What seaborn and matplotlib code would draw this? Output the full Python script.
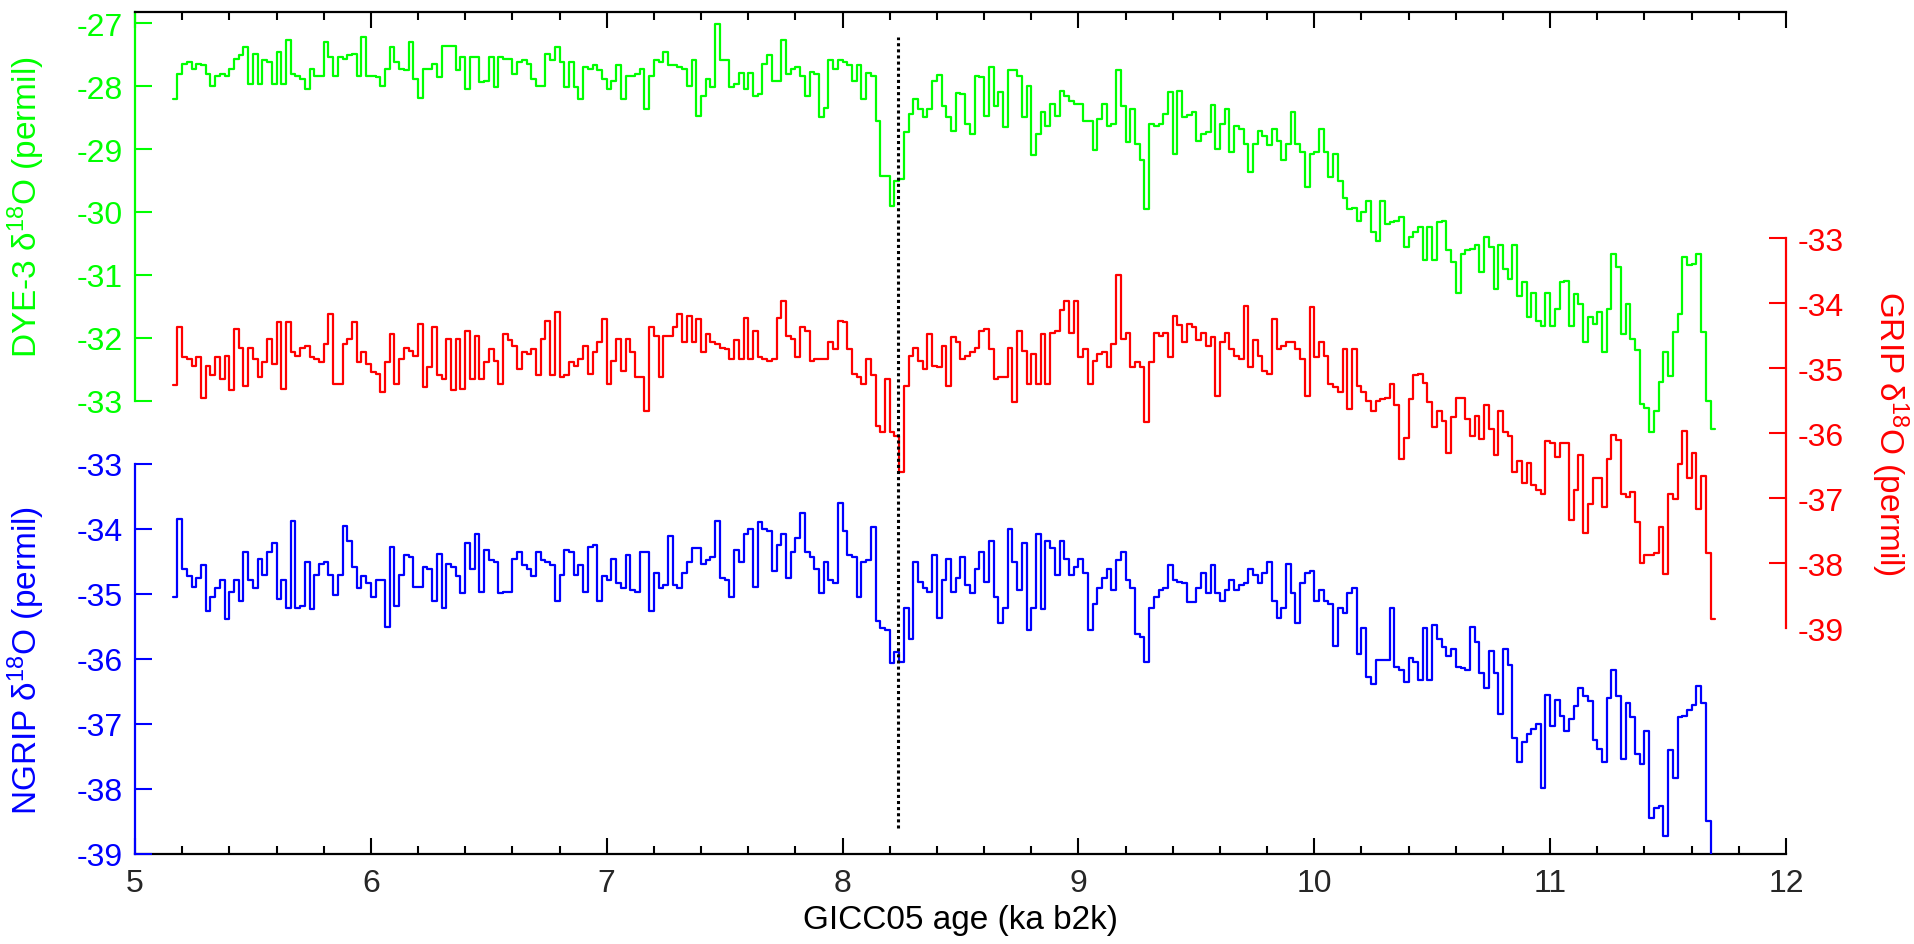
import numpy as np
import pandas as pd
import matplotlib.pyplot as plt
from matplotlib.ticker import MultipleLocator
import seaborn as sns

# 20-year mean d18O (permil) on the GICC05 time scale, first bin starts at 5.16 ka b2k
AGE_START = 5.16
AGE_STEP = 0.02
EVENT_AGE = 8.235   # 8.2 ka event marker

dye3_d18o = [
    -28.20, -27.81, -27.65, -27.62, -27.73, -27.65, -27.67, -27.81, -28.00, -27.84,
    -27.81, -27.84, -27.73, -27.57, -27.51, -27.37, -27.96, -27.49, -27.96, -27.59,
    -27.62, -27.96, -27.45, -27.96, -27.26, -27.81, -27.83, -27.89, -28.04, -27.73,
    -27.83, -27.83, -27.30, -27.54, -27.83, -27.54, -27.57, -27.50, -27.49, -27.83,
    -27.21, -27.83, -27.84, -27.86, -27.99, -27.73, -27.38, -27.62, -27.73, -27.75,
    -27.29, -27.89, -28.18, -27.73, -27.73, -27.65, -27.86, -27.36, -27.36, -27.36,
    -27.75, -27.54, -28.04, -27.54, -27.54, -27.94, -27.91, -27.54, -28.02, -27.54,
    -27.57, -27.57, -27.81, -27.62, -27.59, -27.65, -27.89, -27.99, -27.99, -27.49,
    -27.59, -27.38, -27.62, -28.02, -27.62, -28.02, -28.20, -27.70, -27.73, -27.67,
    -27.75, -27.89, -28.04, -27.91, -27.67, -28.20, -27.83, -27.83, -27.81, -27.73,
    -28.36, -27.83, -27.59, -27.62, -27.46, -27.67, -27.67, -27.70, -27.73, -27.99,
    -27.59, -28.47,
    -28.15, -27.89, -28.02, -27.01, -27.59, -27.59, -28.02, -27.96, -27.79, -28.04,
    -27.79, -28.15, -28.12, -27.65, -27.51, -27.91, -27.91, -27.26, -27.81, -27.73,
    -27.70, -27.83, -28.15, -27.77, -27.81, -28.49, -28.34, -27.58, -27.73, -27.59,
    -27.62, -27.67, -27.91, -27.67, -28.20, -27.79, -27.84, -28.55, -29.42, -29.42,
    -29.91, -29.50, -29.47, -28.73, -28.44, -28.20, -28.36, -28.49, -28.36, -27.91,
    -27.82, -28.31, -28.49, -28.71, -28.11, -28.12, -28.60, -28.76, -27.83, -27.86,
    -28.47, -27.70, -28.31, -28.10, -28.65, -27.74, -27.75, -27.83, -28.49, -27.99,
    -29.10, -28.76, -28.41, -28.63, -28.28, -28.47, -28.07, -28.15, -28.23, -28.28,
    -28.28, -28.55, -28.55, -29.02, -28.52, -28.28, -28.63, -28.60, -27.75, -28.31,
    -28.89, -28.36, -28.92, -29.18, -29.95, -28.60, -28.63, -28.60, -28.44, -28.10,
    -29.08, -28.07, -28.49, -28.46, -28.41, -28.87, -28.76, -28.73, -28.30, -29.00,
    -28.60, -28.36, -29.05, -28.63, -28.68, -28.92, -29.37, -28.92, -28.71, -28.79,
    -28.94, -28.68, -28.87, -29.18, -28.92, -28.41, -28.92, -29.05, -29.61, -29.08,
    -29.05, -28.68, -29.05, -29.45, -29.08, -29.50, -29.77, -29.95,
    -29.93, -30.14, -30.00, -29.82, -30.32, -30.46, -29.82, -30.19, -30.16, -30.14,
    -30.08, -30.56, -30.40, -30.32, -30.24, -30.77, -30.24, -30.77, -30.16, -30.14,
    -30.61, -30.80, -31.28, -30.67, -30.61, -30.59, -30.53, -30.96, -30.40, -30.56,
    -31.22, -30.53, -30.91, -31.06, -30.53, -31.33, -31.12, -31.67, -31.28, -31.73,
    -31.81, -31.28, -31.81, -31.54, -31.12, -31.09, -31.81, -31.30, -31.46, -32.07,
    -31.67, -31.78, -31.59, -32.23, -31.54, -30.67, -30.88, -31.94, -31.46, -32.02,
    -32.20, -33.05, -33.11, -33.50, -33.16, -32.71, -32.23, -32.60, -31.91, -31.62,
    -30.72, -30.85, -30.83, -30.67, -31.91, -33.00, -33.45,
]

grip_d18o = [
    -35.26, -34.37, -34.83, -34.86, -34.96, -34.83, -35.45, -34.96, -35.11, -34.83,
    -35.16, -34.81, -35.34, -34.39, -34.68, -35.27, -34.68, -34.86, -35.14, -34.91,
    -34.55, -34.93, -34.28, -35.32, -34.29, -34.75, -34.81, -34.68, -34.65, -34.83,
    -34.86, -34.91, -34.63, -34.16, -35.24, -35.24, -34.63, -34.55, -34.29, -34.91,
    -34.75, -34.93, -35.06, -35.09, -35.37, -34.91, -34.47, -35.24, -34.86, -34.68,
    -34.73, -34.81, -34.32, -35.29, -34.98, -34.37, -35.11, -35.16, -34.55, -35.34,
    -34.55, -35.32, -34.42, -35.16, -34.50, -35.16, -34.91, -34.70, -34.88, -35.24,
    -34.47, -34.57, -34.65, -35.01, -34.75, -34.78, -34.70, -35.11, -34.55, -34.27,
    -35.11, -34.14, -35.14, -35.11, -34.91, -34.96, -34.86, -34.65, -35.09, -34.75,
    -34.60, -34.24, -35.24, -34.88, -34.55, -35.04, -34.55, -34.75, -35.14, -35.14,
    -35.65, -34.37, -34.50, -35.14, -34.50, -34.50, -34.37, -34.16, -34.60, -34.19,
    -34.60, -34.24,
    -34.75, -34.47, -34.60, -34.63, -34.68, -34.70, -34.86, -34.57, -34.86, -34.22,
    -34.86, -34.42, -34.83, -34.86, -34.88, -34.86, -34.22, -33.96, -34.50, -34.55,
    -34.83, -34.37, -34.42, -34.88, -34.86, -34.86, -34.86, -34.60, -34.70, -34.27,
    -34.29, -34.70, -35.09, -35.14, -35.24, -34.86, -35.11, -35.88, -35.98, -35.16,
    -35.98, -36.04, -36.60, -35.27, -34.81, -34.68, -34.88, -35.01, -34.47, -34.96,
    -34.98, -34.65, -35.27, -34.52, -34.60, -34.86, -34.81, -34.75, -34.68, -34.42,
    -34.39, -34.70, -35.16, -35.14, -35.14, -34.68, -35.52, -34.42, -34.73, -35.24,
    -34.78, -35.24, -34.47, -35.24, -34.45, -34.42, -34.11, -33.96, -34.45, -33.96,
    -34.83, -34.70, -35.24, -34.88, -34.78, -34.75, -34.98, -34.63, -33.57, -34.55,
    -34.45, -34.98, -34.91, -34.98, -35.83, -34.91, -34.45, -34.50, -34.45, -34.83,
    -34.19, -34.34, -34.60, -34.32, -34.37, -34.57, -34.45, -34.65, -34.52, -35.42,
    -34.60, -34.45, -34.70, -34.81, -34.86, -34.04, -34.98, -34.57, -34.81, -35.04,
    -35.09, -34.24, -34.70, -34.65, -34.60, -34.60, -34.70, -34.86, -35.42, -34.06,
    -34.83, -34.60, -34.81, -35.24, -35.29, -35.37, -34.70, -35.63,
    -34.70, -35.27, -35.37, -35.50, -35.65, -35.50, -35.47, -35.45, -35.24, -35.57,
    -36.39, -36.07, -35.47, -35.11, -35.09, -35.22, -35.52, -35.91, -35.65, -35.81,
    -36.31, -35.75, -35.45, -35.45, -35.78, -36.04, -35.73, -36.09, -35.57, -35.93,
    -36.34, -35.65, -35.98, -36.04, -36.60, -36.42, -36.77, -36.45, -36.79, -36.87,
    -36.93, -36.12, -36.15, -36.36, -36.15, -36.15, -37.33, -36.87, -36.34, -37.54,
    -37.09, -36.69, -36.69, -37.14, -36.39, -36.02, -36.10, -36.93, -36.98, -36.90,
    -37.36, -38.00, -37.87, -37.87, -37.84, -37.44, -38.16, -36.93, -37.01, -36.47,
    -35.96, -36.69, -36.31, -37.17, -36.66, -37.84, -38.85,
]

ngrip_d18o = [
    -35.05, -33.84, -34.62, -34.72, -34.89, -34.75, -34.56, -35.26, -35.05, -34.91,
    -34.78, -35.39, -34.97, -34.78, -35.10, -34.35, -34.78, -34.91, -34.46, -34.70,
    -34.35, -34.22, -35.07, -34.78, -35.21, -33.87, -35.21, -35.18, -34.51, -35.23,
    -34.70, -34.54, -34.51, -34.70, -35.02, -34.70, -33.95, -34.19, -34.59, -34.91,
    -34.72, -34.83, -35.05, -34.78, -34.78, -35.50, -34.27, -35.18, -34.70, -34.40,
    -34.43, -34.89, -34.89, -34.59, -34.62, -35.10, -34.38, -35.21, -34.54, -34.59,
    -34.72, -34.99, -34.22, -34.62, -34.08, -34.97, -34.32, -34.48, -34.51, -34.99,
    -34.97, -34.97, -34.46, -34.35, -34.56, -34.62, -34.72, -34.35, -34.48, -34.51,
    -34.56, -35.10, -34.70, -34.32, -34.35, -34.70, -34.56, -34.97, -34.27, -34.24,
    -35.10, -34.72, -34.78, -34.46, -34.83, -34.91, -34.40, -34.94, -34.97, -34.35,
    -34.35, -35.26, -34.67, -34.91, -34.86, -34.11, -34.86, -34.91, -34.67, -34.51,
    -34.30, -34.30,
    -34.54, -34.48, -34.43, -33.87, -34.75, -34.78, -35.05, -34.32, -34.51, -34.08,
    -34.00, -34.89, -33.89, -34.00, -34.03, -34.64, -34.24, -34.08, -34.75, -34.35,
    -34.14, -33.76, -34.35, -34.43, -34.62, -34.99, -34.51, -34.78, -34.83, -33.60,
    -34.03, -34.40, -34.43, -35.05, -34.51, -34.48, -33.97, -35.42, -35.53, -35.55,
    -36.06, -35.90, -36.04, -35.21, -35.69, -34.51, -34.81, -34.91, -34.97, -34.40,
    -35.37, -34.78, -34.46, -34.97, -34.75, -34.43, -34.86, -34.99, -34.62, -34.35,
    -34.81, -34.19, -35.05, -35.45, -35.21, -34.00, -34.51, -34.94, -34.22, -35.55,
    -35.21, -34.08, -35.23, -34.19, -34.30, -34.70, -34.19, -34.46, -34.70, -34.59,
    -34.46, -34.67, -35.55, -35.15, -34.91, -34.75, -34.62, -34.94, -34.48, -34.35,
    -34.78, -34.91, -35.61, -35.66, -36.04, -35.21, -35.05, -34.94, -34.91, -34.56,
    -34.78, -34.81, -34.83, -35.13, -35.13, -34.91, -34.67, -34.99, -34.56, -34.99,
    -35.10, -34.94, -34.78, -34.94, -34.86, -34.83, -34.62, -34.70, -34.83, -34.67,
    -34.51, -35.10, -35.37, -35.21, -34.54, -34.99, -35.45, -34.83, -34.67, -34.64,
    -35.10, -34.94, -35.10, -35.15, -35.80, -35.21, -35.29, -34.99,
    -34.91, -35.93, -35.53, -36.28, -36.39, -36.01, -36.01, -36.01, -35.21, -36.12,
    -36.17, -36.36, -35.98, -36.04, -36.33, -35.53, -36.33, -35.47, -35.69, -35.82,
    -35.96, -35.85, -36.12, -36.14, -36.17, -35.50, -35.74, -36.22, -36.44, -35.88,
    -36.22, -36.84, -35.85, -36.09, -37.22, -37.59, -37.27, -37.16, -37.08, -37.00,
    -37.99, -36.55, -37.03, -36.63, -36.87, -37.11, -36.92, -36.73, -36.44, -36.57,
    -36.65, -37.24, -37.38, -37.59, -36.60, -36.17, -36.57, -37.54, -36.68, -36.89,
    -37.46, -37.62, -37.11, -38.45, -38.29, -38.26, -38.72, -37.40, -37.83, -36.89,
    -36.87, -36.79, -36.71, -36.41, -36.68, -38.50, -39.30,
]

dye3_ticks = [-33, -32, -31, -30, -29, -28, -27]
grip_ticks = [-39, -38, -37, -36, -35, -34, -33]
ngrip_ticks = [-39, -38, -37, -36, -35, -34, -33]

GREEN = "#00ff00"
RED = "#ff0000"
BLUE = "#0000ff"

W, H = 1915, 945
AX_LEFT, AX_RIGHT = 135, 1786      # pixel columns of age 5 and 12
AX_TOP, AX_BOTTOM = 12.7, 855      # pixel rows of the top and bottom spines


def stair_frame(values):
    edges = AGE_START + AGE_STEP * np.arange(len(values) + 1)
    return pd.DataFrame({"age": edges, "d18o": list(values) + [values[-1]]})


def ylims(v_ref, px_ref, px_per_unit):
    # limits that put v_ref on pixel row px_ref with the given scale
    top = v_ref + (px_ref - AX_TOP) / px_per_unit
    bottom = v_ref - (AX_BOTTOM - px_ref) / px_per_unit
    return bottom, top


sns.set_style("white")
plt.rcParams["font.family"] = ["Liberation Sans", "DejaVu Sans"]
plt.rcParams["mathtext.fontset"] = "custom"
plt.rcParams["mathtext.rm"] = "Liberation Sans"
plt.rcParams["mathtext.it"] = "Liberation Sans:italic"
plt.rcParams["axes.unicode_minus"] = False

fig = plt.figure(figsize=(W / 100, H / 100), dpi=100)
ax_g = fig.add_axes([AX_LEFT / W, 1 - AX_BOTTOM / H,
                     (AX_RIGHT - AX_LEFT) / W, (AX_BOTTOM - AX_TOP) / H])
ax_r = ax_g.twinx()
ax_b = ax_g.twinx()
ax_b.yaxis.tick_left()
ax_b.yaxis.set_label_position("left")

for ax, vals, col in [(ax_g, dye3_d18o, GREEN), (ax_r, grip_d18o, RED), (ax_b, ngrip_d18o, BLUE)]:
    sns.lineplot(data=stair_frame(vals), x="age", y="d18o", ax=ax, color=col,
                 lw=1.6, drawstyle="steps-post", estimator=None)
    for s in ax.spines.values():
        s.set_visible(False)

ax_g.set_xlim(5, 12)
g_lim = ylims(-27, 24.3, 62.9)
r_lim = ylims(-33, 239.3, 65.0)
b_lim = ylims(-33, 465.0, 65.0)
ax_g.set_ylim(*g_lim)
ax_r.set_ylim(*r_lim)
ax_b.set_ylim(*b_lim)

# spines
for side in ("top", "bottom"):
    ax_g.spines[side].set_visible(True)
    ax_g.spines[side].set_color("black")
    ax_g.spines[side].set_linewidth(1.6)
ax_g.spines["left"].set_visible(True)
ax_g.spines["left"].set_color(GREEN)
ax_g.spines["left"].set_linewidth(1.6)
ax_g.spines["left"].set_bounds(-33, g_lim[1])
ax_b.spines["left"].set_visible(True)
ax_b.spines["left"].set_color(BLUE)
ax_b.spines["left"].set_linewidth(1.6)
ax_b.spines["left"].set_bounds(-39, -33)
ax_r.spines["right"].set_visible(True)
ax_r.spines["right"].set_color(RED)
ax_r.spines["right"].set_linewidth(1.6)
ax_r.spines["right"].set_bounds(-39, -33)

# x ticks, inward on top and bottom
ax_g.xaxis.set_major_locator(MultipleLocator(1))
ax_g.xaxis.set_minor_locator(MultipleLocator(0.2))
ax_g.tick_params(axis="x", which="both", direction="in", top=True, bottom=True,
                 width=1.5, color="black", labelsize=23, pad=10)
ax_g.tick_params(axis="x", which="major", length=11.5)
ax_g.tick_params(axis="x", which="minor", length=5.8)

ax_g.set_yticks(dye3_ticks)
ax_b.set_yticks(ngrip_ticks)
ax_r.set_yticks(grip_ticks)
ax_g.tick_params(axis="y", direction="in", left=True, right=False, length=12, width=1.5,
                 color=GREEN, labelcolor=GREEN, labelsize=23, pad=9)
ax_b.tick_params(axis="y", direction="in", left=True, right=False, length=12, width=1.5,
                 color=BLUE, labelcolor=BLUE, labelsize=23, pad=9)
ax_r.tick_params(axis="y", direction="in", left=False, right=True, length=12.5, width=1.5,
                 color=RED, labelcolor=RED, labelsize=23, pad=8.5)
ax_r.yaxis.get_major_ticks()[0].tick2line.set_visible(False)

# axis labels
ax_g.set_xlabel("GICC05 age (ka b2k)", fontsize=24, color="black", va="center")
ax_g.xaxis.set_label_coords(0.5, -0.078)
ax_g.set_ylabel("DYE-3 δ$^{18}$O (permil)", fontsize=24, color=GREEN, va="center")
ax_g.yaxis.set_label_coords(-0.066, 0.769)
ax_b.set_ylabel("NGRIP δ$^{18}$O (permil)", fontsize=24, color=BLUE, va="center")
ax_b.yaxis.set_label_coords(-0.066, 0.2315)
ax_r.set_ylabel("GRIP δ$^{18}$O (permil)", fontsize=24, color=RED, va="center", rotation=-90)
ax_r.yaxis.set_label_coords(1.063, 0.50)

# 8.2 ka event
ax_b.axvline(EVENT_AGE, ymin=0.031, ymax=0.970, color="black", lw=2.2, linestyle=(0, (1, 1)))

fig.savefig("out.png", dpi=100)
